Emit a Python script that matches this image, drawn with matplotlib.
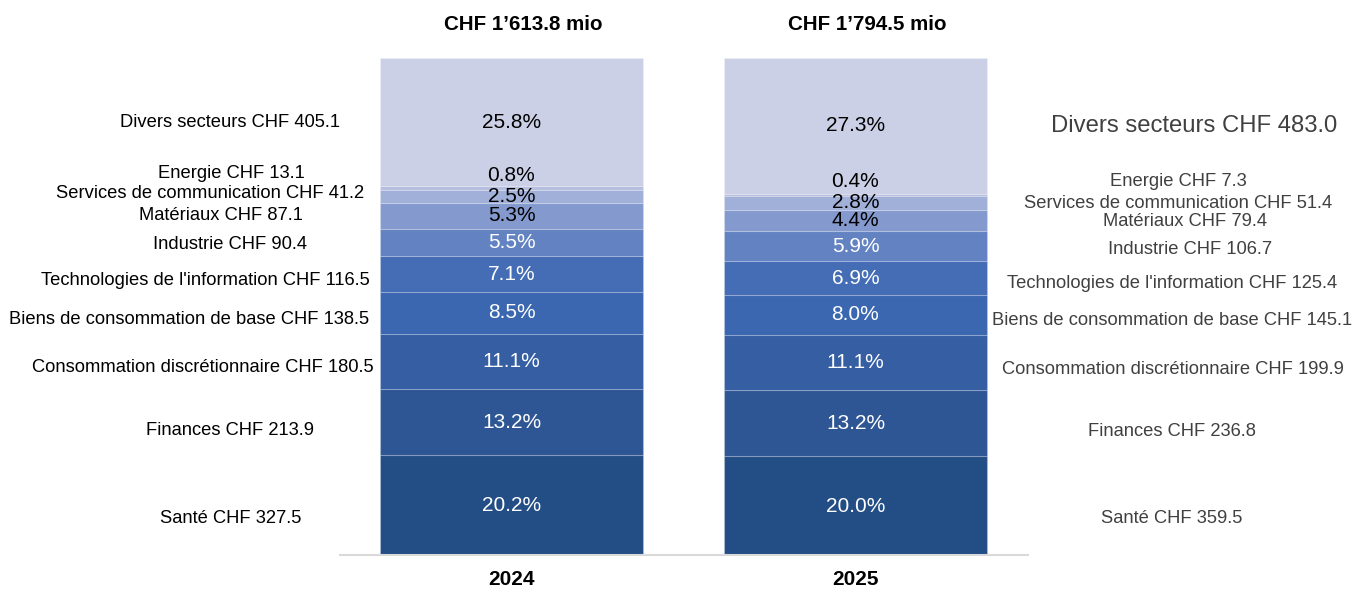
import numpy as np
import matplotlib
matplotlib.use("Agg")
import matplotlib.pyplot as plt
from matplotlib.transforms import blended_transform_factory

plt.rcParams['font.family'] = ['Liberation Sans', 'DejaVu Sans']

# data (top of stack first)
sectors = ["Divers secteurs", "Energie", "Services de communication", "Matériaux",
           "Industrie", "Technologies de l'information", "Biens de consommation de base",
           "Consommation discrétionnaire", "Finances", "Santé"]
years = ["2024", "2025"]
totals = ["CHF 1’613.8 mio", "CHF 1’794.5 mio"]
chf_2024 = [405.1, 13.1, 41.2, 87.1, 90.4, 116.5, 138.5, 180.5, 213.9, 327.5]
chf_2025 = [483.0, 7.3, 51.4, 79.4, 106.7, 125.4, 145.1, 199.9, 236.8, 359.5]
pct_2024 = [25.8, 0.8, 2.5, 5.3, 5.5, 7.1, 8.5, 11.1, 13.2, 20.2]
pct_2025 = [27.3, 0.4, 2.8, 4.4, 5.9, 6.9, 8.0, 11.1, 13.2, 20.0]

colors = ["#CBD0E6", "#B6BFDD", "#A0B0D9", "#8499CE", "#6282C2",
          "#446DB5", "#3A67B0", "#355EA3", "#2E5695", "#234D85"]
dark_text = [True, True, True, True, False, False, False, False, False, False]

# layout: label centres (figure px) and vertical nudges (px, + = down)
left_x = [230, 231, 210, 221, 230, 205, 189, 203, 230, 231]
right_x = [1194, 1178, 1178, 1185, 1190, 1172, 1172, 1173, 1172, 1172]
left_dy = [0, -15, -2.5, 0, 1.5, 7, 6.5, 6, 9, 14]
right_dy = [0, -13, 1, 1, 3.5, 5.5, 6, 7, 9, 13]
pct_dy = [0, -13, 0, 0, 0, 1, 0, 0, 1, 1]

W, H = 1352, 590
fig = plt.figure(figsize=(W / 100, H / 100), dpi=100)
ax = fig.add_axes([339.5 / W, 1 - 555 / H, 688 / W, (555 - 58) / H])

pcts = [pct_2024, pct_2025]
bw = 0.767

centers = []
for i in range(2):
    bottom = 0.0
    cs = {}
    # stack from the bottom (Santé) upward
    for j in reversed(range(len(sectors))):
        h = pcts[i][j]
        ax.bar(i, h, bottom=bottom, width=bw, color=colors[j],
               edgecolor=(1, 1, 1, 0.18), linewidth=0.8)
        cs[j] = bottom + h / 2
        bottom += h
    centers.append(cs)

ax.set_xlim(-0.5, 1.5)
ax.set_ylim(0, 100)
ax.set_yticks([])
ax.set_xticks(range(2))
ax.set_xticklabels(years, fontsize=15, fontweight='bold')
ax.tick_params(axis='x', length=0, pad=11)
for s in ['top', 'left', 'right']:
    ax.spines[s].set_visible(False)
ax.spines['bottom'].set_color('#D9D9D9')
ax.spines['bottom'].set_linewidth(1.5)

# percentage labels inside the bars
for i in range(2):
    for j in range(len(sectors)):
        ax.annotate(f"{pcts[i][j]:.1f}%", xy=(i, centers[i][j]),
                    xytext=(0, -pct_dy[j] * 0.72), textcoords='offset points',
                    ha='center', va='center', fontsize=15,
                    color='black' if dark_text[j] else 'white')

# sector labels on both sides
tr = blended_transform_factory(fig.transFigure, ax.transData)
for j, name in enumerate(sectors):
    ax.annotate(f"{name} CHF {chf_2024[j]:.1f}", xy=(left_x[j] / W, centers[0][j]),
                xycoords=tr, xytext=(0, -left_dy[j] * 0.72), textcoords='offset points',
                ha='center', va='center', fontsize=13.2, color='black')
    ax.annotate(f"{name} CHF {chf_2025[j]:.1f}", xy=(right_x[j] / W, centers[1][j]),
                xycoords=tr, xytext=(0, -right_dy[j] * 0.72), textcoords='offset points',
                ha='center', va='center', fontsize=17.2 if j == 0 else 13.2,
                color='#404040')

# totals above each bar
trh = blended_transform_factory(ax.transData, fig.transFigure)
for i, t in enumerate(totals):
    ax.text(i + 0.035, 1 - 25 / H, t, transform=trh, ha='center', va='center',
            fontsize=14.8, fontweight='bold')

fig.savefig("out.png", dpi=100)
